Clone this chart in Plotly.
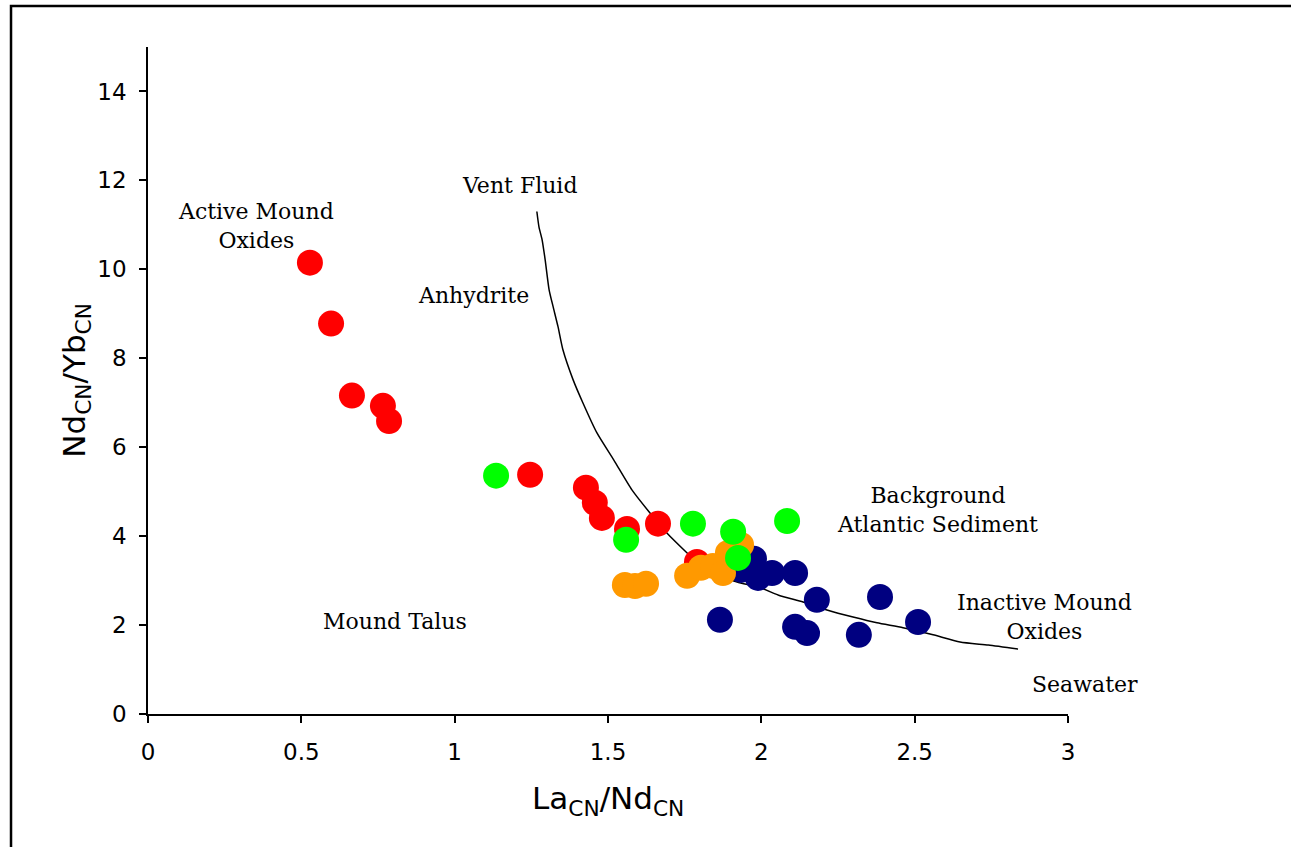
import plotly.graph_objects as go

# Active mound oxides (red)
red_x = [0.528, 0.597, 0.665, 0.766, 0.786, 1.246, 1.428, 1.457, 1.480, 1.562, 1.663, 1.790]
red_y = [10.15, 8.78, 7.16, 6.93, 6.59, 5.38, 5.09, 4.75, 4.41, 4.16, 4.28, 3.42]

# Inactive mound oxides (navy)
navy_x = [1.934, 1.976, 1.989, 2.035, 2.110, 2.181, 1.865, 2.110, 2.149, 2.318, 2.387, 2.511]
navy_y = [3.24, 3.49, 3.06, 3.17, 3.17, 2.57, 2.12, 1.96, 1.82, 1.78, 2.63, 2.07]

# Mound talus (orange)
orange_x = [1.555, 1.588, 1.624, 1.758, 1.803, 1.842, 1.875, 1.891, 1.934]
orange_y = [2.90, 2.88, 2.93, 3.11, 3.29, 3.33, 3.17, 3.62, 3.80]

# Anhydrite (green)
green_x = [1.135, 1.559, 1.777, 1.908, 1.924, 2.084]
green_y = [5.36, 3.92, 4.28, 4.10, 3.51, 4.34]

# Vent fluid - seawater mixing curve
curve_x = [1.268, 1.275, 1.285, 1.295, 1.308, 1.321, 1.337, 1.353, 1.386, 1.418, 1.464,
           1.520, 1.578, 1.637, 1.692, 1.758, 1.800, 1.860, 1.921, 1.996, 2.061, 2.136, 2.214,
           2.299, 2.377, 2.462, 2.560, 2.648, 2.740, 2.837]
curve_y = [11.30, 10.95, 10.67, 10.22, 9.54, 9.16, 8.71, 8.19, 7.52, 7.00, 6.32,
           5.70, 5.04, 4.52, 4.07, 3.62, 3.35, 3.12, 2.97, 2.84, 2.66, 2.52, 2.34,
           2.18, 2.05, 1.94, 1.78, 1.62, 1.55, 1.46]

x_ticks = [0, 0.5, 1, 1.5, 2, 2.5, 3]
x_tick_labels = ["0", "0.5", "1", "1.5", "2", "2.5", "3"]
y_ticks = [0, 2, 4, 6, 8, 10, 12, 14]
y_tick_labels = ["0", "2", "4", "6", "8", "10", "12", "14"]

labels = [
    ("Vent Fluid", 1.213, 11.88),
    ("Active Mound<br>Oxides", 0.352, 10.98),
    ("Anhydrite", 1.060, 9.41),
    ("Background<br>Atlantic Sediment", 2.573, 4.59),
    ("Inactive Mound<br>Oxides", 2.922, 2.18),
    ("Mound Talus", 0.805, 2.07),
]
# label sitting beyond the x range (paper coordinates)
outside_labels = [("Seawater", 1.0185, 0.0435)]

fig = go.Figure()
fig.add_trace(go.Scatter(x=curve_x, y=curve_y, mode="lines",
                         line=dict(color="black", width=1.5, shape="spline", smoothing=0.6),
                         showlegend=False, hoverinfo="skip"))
marker_common = dict(size=26, line=dict(width=0))
fig.add_trace(go.Scatter(x=red_x, y=red_y, mode="markers", name="Active Mound Oxides",
                         marker=dict(color="#ff0000", **marker_common)))
fig.add_trace(go.Scatter(x=navy_x, y=navy_y, mode="markers", name="Inactive Mound Oxides",
                         marker=dict(color="#000080", **marker_common)))
fig.add_trace(go.Scatter(x=orange_x, y=orange_y, mode="markers", name="Mound Talus",
                         marker=dict(color="#ff9900", **marker_common)))
fig.add_trace(go.Scatter(x=green_x, y=green_y, mode="markers", name="Anhydrite",
                         marker=dict(color="#00ff00", **marker_common)))

serif = dict(family="DejaVu Serif", size=22, color="black")
for text, x, y in labels:
    fig.add_annotation(x=x, y=y, xref="x", yref="y", text=text, showarrow=False,
                       font=serif, align="center", xanchor="center", yanchor="middle")
for text, x, y in outside_labels:
    fig.add_annotation(x=x, y=y, xref="paper", yref="paper", text=text, showarrow=False,
                       font=serif, align="center", xanchor="center", yanchor="middle")

axis_font = dict(family="DejaVu Sans", size=23, color="black")
fig.update_xaxes(range=[0, 3], tickvals=x_ticks, ticktext=x_tick_labels,
                 showline=True, linecolor="black", linewidth=1.5, ticks="outside",
                 ticklen=7, tickwidth=1.5, tickcolor="black", showgrid=False,
                 zeroline=False, tickfont=axis_font, ticklabelstandoff=10)
fig.update_yaxes(range=[0, 15], tickvals=y_ticks, ticktext=y_tick_labels,
                 showline=True, linecolor="black", linewidth=1.5, ticks="outside",
                 ticklen=7, tickwidth=1.5, tickcolor="black", showgrid=False,
                 zeroline=False, tickfont=axis_font, ticklabelstandoff=8)

title_font = dict(family="DejaVu Sans", size=31, color="black")
fig.add_annotation(xref="paper", yref="paper", x=0.5, y=-0.129,
                   text="La<sub>CN</sub>/Nd<sub>CN</sub>", showarrow=False,
                   xanchor="center", yanchor="middle", font=title_font)
fig.add_annotation(xref="paper", yref="paper", x=-0.078, y=0.5, textangle=-90,
                   text="Nd<sub>CN</sub>/Yb<sub>CN</sub>", showarrow=False,
                   xanchor="center", yanchor="middle", font=title_font)

# outer frame
fig.add_shape(type="rect", xref="paper", yref="paper",
              x0=-0.1489, x1=1.30, y0=-0.25, y1=1.0615,
              line=dict(color="black", width=2.5), fillcolor="rgba(0,0,0,0)")

fig.update_layout(width=1291, height=847, showlegend=False,
                  margin=dict(l=148, r=223, t=47, b=133),
                  plot_bgcolor="white", paper_bgcolor="white")

fig.write_html("out.html")
